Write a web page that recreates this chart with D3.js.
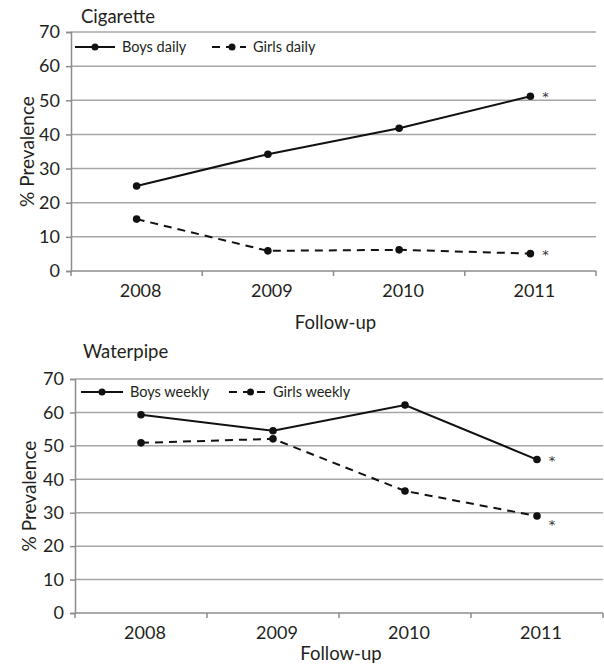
<!DOCTYPE html>
<html>
<head>
<meta charset="utf-8">
<script src="https://cdn.jsdelivr.net/npm/d3@7"></script>
<style>
  body { margin: 0; background: #fff; }
  text { font-family: Lato, "Open Sans", sans-serif; fill: #231f20; }
</style>
</head>
<body>
<script>
// data
var years = ['2008', '2009', '2010', '2011']
var yTicks = [0, 10, 20, 30, 40, 50, 60, 70]

var boysDaily  = [24.9, 34.2, 41.8, 51.2]
var girlsDaily = [15.2, 5.9, 6.2, 5.1]

var boysWeekly  = [59.3, 54.5, 62.2, 45.9]
var girlsWeekly = [50.9, 52.1, 36.5, 29.0]

var svg = d3.select('body').append('svg')
  .attr('width', 604)
  .attr('height', 668)

function drawPanel(opt) {
  var x = d3.scaleBand().domain(years).range([opt.left, opt.right])
  var y = d3.scaleLinear().domain([0, 70]).range([opt.bottom, opt.top])
  var g = svg.append('g')

  // gridlines
  g.selectAll('line.grid').data(yTicks.slice(1)).enter().append('line')
    .attr('x1', opt.left).attr('x2', opt.right)
    .attr('y1', function(d) { return y(d) }).attr('y2', function(d) { return y(d) })
    .attr('stroke', '#a6a6a6').attr('stroke-width', 1.5)

  // y axis
  var ya = g.append('g').attr('transform', 'translate(' + opt.left + ',0)')
    .call(d3.axisLeft(y).tickValues(yTicks).tickSize(5).tickPadding(6))
  ya.selectAll('path, line').attr('stroke', '#8c8c8c').attr('stroke-width', 1.5)
  ya.selectAll('text').style('font-size', '18px').style('font-family', 'Lato, sans-serif').attr('fill', '#231f20')

  // x axis with ticks between categories
  var xa = g.append('g').attr('transform', 'translate(0,' + opt.bottom + ')')
  xa.append('line').attr('x1', opt.left).attr('x2', opt.right)
    .attr('stroke', '#8c8c8c').attr('stroke-width', 1.5)
  var bounds = years.map(function(d) { return x(d) }).concat([x.range()[1]])
  xa.selectAll('line.tk').data(bounds).enter().append('line')
    .attr('x1', function(d) { return d }).attr('x2', function(d) { return d })
    .attr('y1', 0).attr('y2', 5)
    .attr('stroke', '#8c8c8c').attr('stroke-width', 1.5)
  xa.selectAll('text').data(years).enter().append('text')
    .attr('x', function(d) { return x(d) + x.bandwidth() / 2 + 4 })
    .attr('y', 26)
    .attr('text-anchor', 'middle')
    .style('font-size', '18px')
    .text(function(d) { return d })

  // titles
  g.append('text').attr('x', opt.titleX).attr('y', opt.titleY)
    .style('font-size', '18.5px').text(opt.title)
  g.append('text').attr('x', (opt.left + opt.right) / 2 + 2).attr('y', opt.xTitleY)
    .attr('text-anchor', 'middle').style('font-size', '18.5px').text('Follow-up')
  g.append('text')
    .attr('transform', 'translate(' + opt.yTitleX + ',' + ((opt.top + opt.bottom) / 2) + ') rotate(-90)')
    .attr('text-anchor', 'middle').attr('dy', '0.35em')
    .style('font-size', '19px').text('% Prevalence')

  var line = d3.line()
    .x(function(d, i) { return x(years[i]) + x.bandwidth() / 2 })
    .y(function(d) { return y(d) })

  opt.series.forEach(function(s) {
    g.append('path').datum(s.values)
      .attr('d', line)
      .attr('fill', 'none')
      .attr('stroke', '#111')
      .attr('stroke-width', 2)
      .attr('stroke-dasharray', s.dash ? '8,6' : null)
    g.selectAll(null).data(s.values).enter().append('circle')
      .attr('cx', function(d, i) { return x(years[i]) + x.bandwidth() / 2 })
      .attr('cy', function(d) { return y(d) })
      .attr('r', 3.8)
      .attr('fill', '#111')
    // asterisk after last point
    g.append('text')
      .attr('x', x(years[3]) + x.bandwidth() / 2 + 15)
      .attr('y', y(s.values[3]) + s.starDy)
      .attr('text-anchor', 'middle')
      .style('font-family', '"DejaVu Sans", sans-serif')
      .style('font-size', '13px')
      .style('fill', '#333')
      .text('*')

    // legend entry
    var lg = g.append('g')
    lg.append('line')
      .attr('x1', s.legX).attr('x2', s.legX + s.legW)
      .attr('y1', opt.legY).attr('y2', opt.legY)
      .attr('stroke', '#111').attr('stroke-width', 2)
      .attr('stroke-dasharray', s.dash ? '8,6' : null)
    lg.append('circle').attr('cx', s.legX + s.legW / 2 + (s.dash ? 3 : 0)).attr('cy', opt.legY)
      .attr('r', 3.5).attr('fill', '#111')
    lg.append('text').attr('x', s.legX + s.legW + 7).attr('y', opt.legY).attr('dy', '0.35em')
      .style('font-size', '14.5px').text(s.name)
  })
}

drawPanel({
  title: 'Cigarette', titleX: 81, titleY: 23,
  left: 71, right: 596, top: 32, bottom: 271,
  xTitleY: 329, yTitleX: 27, legY: 47,
  series: [
    { name: 'Boys daily', values: boysDaily, dash: false, legX: 75, legW: 40, starDy: 5 },
    { name: 'Girls daily', values: girlsDaily, dash: true, legX: 212, legW: 34, starDy: 5 }
  ]
})

drawPanel({
  title: 'Waterpipe', titleX: 83, titleY: 358,
  left: 75, right: 603, top: 379, bottom: 613,
  xTitleY: 660, yTitleX: 29, legY: 392,
  series: [
    { name: 'Boys weekly', values: boysWeekly, dash: false, legX: 81, legW: 42, starDy: 5 },
    { name: 'Girls weekly', values: girlsWeekly, dash: true, legX: 229, legW: 37, starDy: 13 }
  ]
})
</script>
</body>
</html>
